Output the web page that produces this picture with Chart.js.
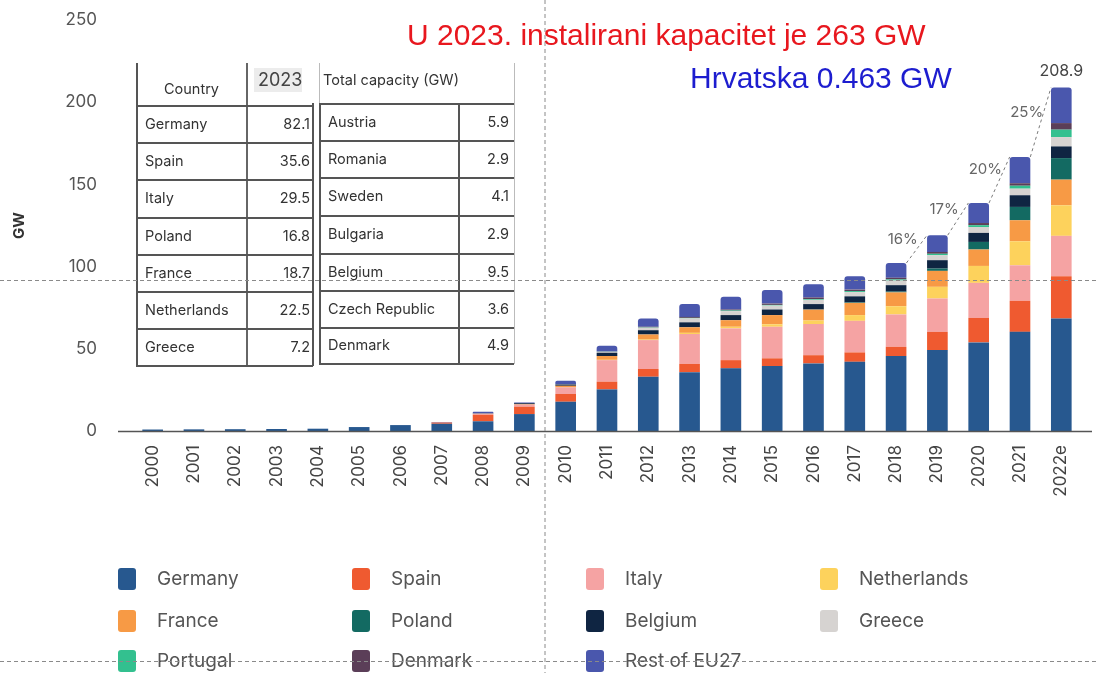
<!DOCTYPE html>
<html><head><meta charset="utf-8">
<script src="https://cdn.jsdelivr.net/npm/chart.js@4"></script>
<style>
html,body{margin:0;padding:0;background:#fff;}
#wrap{position:relative;width:1096px;height:673px;overflow:hidden;background:#fff;}
#c{position:absolute;left:0;top:0;}
.ttl{position:absolute;white-space:nowrap;font-family:"Liberation Sans",Arial,sans-serif;font-size:30px;line-height:30px;}
.cell{position:absolute;white-space:nowrap;font-family:Inter,"Open Sans",sans-serif;font-size:14.5px;color:#333;line-height:16px;}
.ln{position:absolute;background:#555;}
.lg{position:absolute;font-family:Inter,"Open Sans",sans-serif;font-size:19px;color:#555;white-space:nowrap;line-height:22px;}
.sw{position:absolute;width:18px;height:22px;border-radius:3px;}
svg{position:absolute;left:0;top:0;pointer-events:none;}
</style></head>
<body>
<div id="wrap">
<canvas id="c" width="1096" height="673"></canvas>
<div id="tbl"></div>
<div id="legend"></div>
<div class="ttl" style="left:407px;top:20px;color:#e8171e;">U 2023. instalirani kapacitet je 263 GW</div>
<div class="ttl" style="left:690px;top:63px;color:#1d1dcf;">Hrvatska 0.463 GW</div>
<svg width="1096" height="673">
<line x1="545" y1="0" x2="545" y2="673" stroke="#8a8a8a" stroke-width="1" stroke-dasharray="4 3"/>
<line x1="0" y1="280.5" x2="1096" y2="280.5" stroke="#8a8a8a" stroke-width="1" stroke-dasharray="4 3"/>
<line x1="0" y1="661.5" x2="1096" y2="661.5" stroke="#8a8a8a" stroke-width="1" stroke-dasharray="4 3"/>
</svg>
</div>
<script>
const years = ['2000','2001','2002','2003','2004','2005','2006','2007','2008','2009','2010','2011','2012','2013','2014','2015','2016','2017','2018','2019','2020','2021','2022e'];
const germany     = [0.9,1.0,1.1,1.2,1.4,2.4,3.6,4.4,5.9,10.3,17.8,25.3,33.0,35.8,38.1,39.5,41.1,42.1,45.6,49.2,53.9,60.3,68.5];
const spain       = [0,0,0,0,0,0,0,0.7,4.0,4.5,4.7,4.7,4.7,5.0,5.0,4.7,5.0,5.7,5.6,11.1,14.9,18.9,25.7];
const italy       = [0,0,0,0,0,0,0,0.1,0.5,1.2,4.0,13.1,17.6,18.2,19.3,19.2,19.0,19.2,19.7,20.3,21.3,21.6,24.5];
const netherlands = [0,0,0,0,0,0,0,0,0,0,0,0.2,0.3,0.7,1.0,1.5,2.1,3.5,5.0,7.1,10.3,14.6,18.6];
const france      = [0,0,0,0,0,0,0,0,0.1,0.3,1.0,2.3,3.1,3.4,4.0,5.6,6.6,7.4,8.4,9.7,10.0,12.8,15.6];
const poland      = [0,0,0,0,0,0,0,0,0,0,0,0,0,0,0,0,0.1,0.3,0.5,1.4,4.6,8.1,13.1];
const belgium     = [0,0,0,0,0,0,0,0,0.1,0.6,0.8,2.0,2.6,3.0,3.1,3.4,3.3,3.7,3.9,5.1,5.5,7.1,7.1];
const greece      = [0,0,0,0,0,0,0,0,0,0,0.2,0.5,1.5,2.4,2.4,2.4,2.6,2.6,2.8,3.0,3.6,4.0,5.7];
const portugal    = [0,0,0,0,0,0,0,0,0,0,0,0.1,0.2,0.3,0.4,0.4,0.5,0.6,0.7,0.9,1.1,1.8,4.5];
const denmark     = [0,0,0,0,0,0,0,0,0,0,0,0.1,0.4,0.6,0.6,0.8,0.9,0.9,1.0,1.1,1.3,1.5,4.0];
const restEU27    = [0,0,0,0,0,0,0,0.2,1.1,0.5,2.1,3.5,5.1,7.8,7.7,8.2,8.1,8.2,9.0,10.2,12.2,16.0,21.6];

const seriesNames  = ['Germany','Spain','Italy','Netherlands','France','Poland','Belgium','Greece','Portugal','Denmark','Rest of EU27'];
const seriesData   = [germany,spain,italy,netherlands,france,poland,belgium,greece,portugal,denmark,restEU27];
const seriesColors = ['#27588f','#ef5a30','#f5a3a3','#fdd25c','#f79a45','#136a62','#0f2542','#d6d3d1','#33c08f','#5b3e58','#4a57ad'];

const growthYears  = ['2018','2019','2020','2021'];
const growthLabels = ['16%','17%','20%','25%'];
const totalLabelYear = '2022e';
const totalLabel = '208.9';

const yTicks = [0,50,100,150,200,250];

const tableLeftCountries  = ['Germany','Spain','Italy','Poland','France','Netherlands','Greece'];
const tableLeftValues     = ['82.1','35.6','29.5','16.8','18.7','22.5','7.2'];
const tableRightCountries = ['Austria','Romania','Sweden','Bulgaria','Belgium','Czech Republic','Denmark'];
const tableRightValues    = ['5.9','2.9','4.1','2.9','9.5','3.6','4.9'];

// ---------- table (HTML overlay) ----------
(function(){
  const t = document.getElementById('tbl');
  function line(x,y,w,h,c){const d=document.createElement('div');d.className='ln';d.style.cssText=`left:${x}px;top:${y}px;width:${w}px;height:${h}px;`+(c?`background:${c};`:'');t.appendChild(d);}
  function cell(txt,x,y,align,w,extra){const d=document.createElement('div');d.className='cell';d.textContent=txt;
    d.style.left=x+'px';d.style.top=(y-8)+'px';if(align==='right'){d.style.width=w+'px';d.style.textAlign='right';}
    if(extra)d.style.cssText+=extra;t.appendChild(d);}
  const box=document.createElement('div');box.style.cssText='position:absolute;left:254px;top:68px;width:48px;height:24px;background:#ececec;';t.appendChild(box);
  cell('Country',164,89,null,0,'font-size:14.5px;');
  cell('2023',258,79,null,0,'font-size:18px;color:#444;line-height:18px;');
  cell('Total capacity (GW)',323,80,null,0,'font-size:14.5px;');
  const lRows=[105,142,179,217,254,291,328,365];
  const rRows=[103,140,177,215,253,290,327,363];
  line(136,63,1.5,303); line(246,63,1.5,303,'#666'); line(312,103,1.5,263);
  lRows.forEach(y=>line(136,y,177,1.5));
  line(319,103,1.5,261); line(458,103,1.5,261); line(514,63,1,301,'#bbb');
  line(319,63,1,40,'#bbb');
  rRows.forEach(y=>line(319,y,195,1.5));
  for(let i=0;i<7;i++){
    const yl=(lRows[i]+lRows[i+1])/2, yr=(rRows[i]+rRows[i+1])/2;
    cell(tableLeftCountries[i],145,yl);
    cell(tableLeftValues[i],250,yl,'right',60);
    cell(tableRightCountries[i],328,yr);
    cell(tableRightValues[i],462,yr,'right',47);
  }
})();

// ---------- legend (HTML) ----------
(function(){
  const lg=document.getElementById('legend');
  const cols=[118,352,586,820], rows=[579,621,661];
  seriesNames.forEach((n,i)=>{
    const cx=cols[i%4], cy=rows[Math.floor(i/4)];
    const s=document.createElement('div');s.className='sw';s.style.left=cx+'px';s.style.top=(cy-11)+'px';s.style.background=seriesColors[i];lg.appendChild(s);
    const t=document.createElement('div');t.className='lg';t.textContent=n;t.style.left=(cx+39)+'px';t.style.top=(cy-11)+'px';lg.appendChild(t);
  });
})();

// ---------- chart ----------
const overlay = {
  id:'overlay',
  afterDatasetsDraw(chart){
    const ctx=chart.ctx, ys=chart.scales.y;
    const y0=ys.getPixelForValue(0);
    ctx.save();
    ctx.strokeStyle='#555'; ctx.lineWidth=1.5;
    ctx.beginPath(); ctx.moveTo(118,y0+0.5); ctx.lineTo(1092,y0+0.5); ctx.stroke();
    const bars=chart.getDatasetMeta(seriesData.length-1).data;
    const idx=l=>years.indexOf(l);
    ctx.setLineDash([3,3]); ctx.strokeStyle='#7a7a7a'; ctx.lineWidth=1;
    ctx.font='15px Inter, "Open Sans", sans-serif'; ctx.fillStyle='#666'; ctx.textAlign='center'; ctx.textBaseline='middle';
    growthYears.forEach((yr,k)=>{
      const a=bars[idx(yr)], b=bars[idx(yr)+1];
      const x1=a.x+a.width/2, y1=a.y, x2=b.x-b.width/2, y2=b.y;
      ctx.beginPath(); ctx.moveTo(x1,y1); ctx.lineTo(x2,y2); ctx.stroke();
      ctx.fillText(growthLabels[k],(x1+x2)/2-14,(y1+y2)/2-10);
    });
    const t=bars[idx(totalLabelYear)];
    ctx.font='16px Inter, "Open Sans", sans-serif'; ctx.fillStyle='#444';
    ctx.fillText(totalLabel,t.x,t.y-16);
    ctx.restore();
  }
};

new Chart(document.getElementById('c'),{
  type:'bar',
  data:{
    labels:years,
    datasets:seriesNames.map((n,i)=>({
      label:n, data:seriesData[i], backgroundColor:seriesColors[i], borderWidth:0,
      borderRadius: i===seriesNames.length-1 ? {topLeft:3,topRight:3,bottomLeft:0,bottomRight:0} : 0,
      borderSkipped: i===seriesNames.length-1 ? false : 'start',
      categoryPercentage:1, barPercentage:0.5
    }))
  },
  options:{
    responsive:false, animation:false,
    layout:{padding:{left:0,right:14,top:20,bottom:0}},
    plugins:{legend:{display:false},tooltip:{enabled:false},title:{display:false}},
    scales:{
      x:{stacked:true, grid:{display:false,drawTicks:false}, border:{display:false},
        ticks:{autoSkip:false,minRotation:90,maxRotation:90,padding:14,color:'#444',font:{family:'Inter, "Open Sans", sans-serif',size:17}},
        afterFit(s){s.height=242;}},
      y:{stacked:true, min:0, max:250, grid:{display:false,drawTicks:false}, border:{display:false},
        afterBuildTicks(s){s.ticks=yTicks.map(v=>({value:v}));},
        ticks:{padding:35,color:'#555',font:{family:'Inter, "Open Sans", sans-serif',size:17}},
        title:{display:true,text:'GW',color:'#333',padding:{top:10,bottom:0},font:{family:'Inter, "Open Sans", sans-serif',size:15,weight:'bold'}},
        afterFit(s){s.width=132; s.paddingTop=0; s.paddingBottom=0;}}
    }
  },
  plugins:[overlay]
});
</script>
</body></html>
